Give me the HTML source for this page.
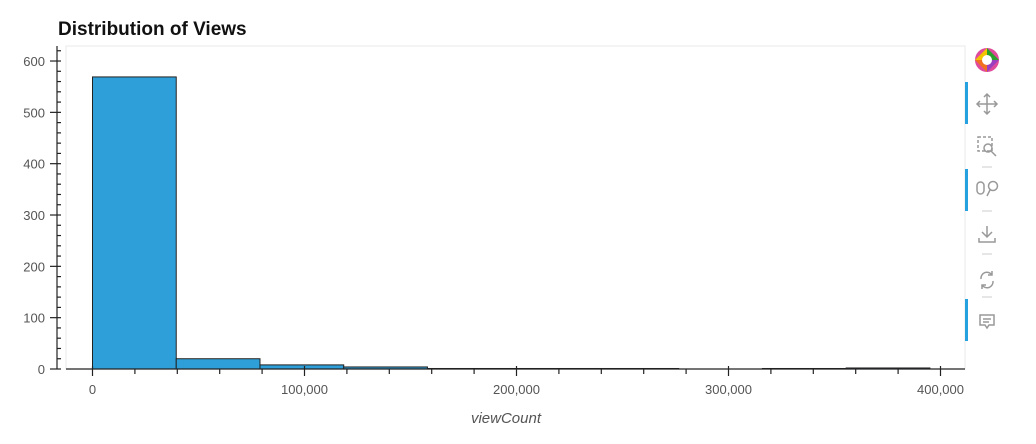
<!DOCTYPE html>
<html><head><meta charset="utf-8">
<style>
body{margin:0;background:#fff;font-family:"Liberation Sans",sans-serif;}
svg text{font-family:"Liberation Sans",sans-serif;}
</style></head>
<body>
<svg width="1036" height="439" id="chart">
<text x="58" y="35" font-size="19" font-weight="bold" fill="#111">Distribution of Views</text>
<rect x="66" y="46" width="899" height="323" fill="none" stroke="#e8e8e8"/>
<g id="bars"></g>
<g id="axes"></g>
<text x="506" y="423" font-size="15" font-style="italic" fill="#555" text-anchor="middle">viewCount</text>
<g stroke="#999" fill="none" stroke-width="1.5">
  <g stroke="none">
    <circle cx="987" cy="60" r="12" fill="#e04a9b"/>
    <path d="M987 48 L999 60 L987 60Z" fill="#2ca02c"/>
    <path d="M999 60 L987 72 L987 60Z" fill="#9b3fc0"/>
    <path d="M987 72 L975 60 L987 60Z" fill="#f07020"/>
    <path d="M975 60 L987 48 L987 60Z" fill="#f2c500"/>
    <circle cx="987" cy="60" r="5" fill="#fff"/>
  </g>
  <rect x="965" y="82" width="3" height="42" fill="#26a1e0" stroke="none"/>
  <g><path d="M987 94v20M977 104h20M984 97l3-3 3 3M984 111l3 3 3-3M980 101l-3 3 3 3M994 101l3 3-3 3"/></g>
  <g><rect x="978" y="137" width="14" height="14" stroke-dasharray="3 2"/><circle cx="988" cy="148" r="4"/><path d="M991 151l5 5"/></g>
  <path d="M982 167h10M982 211h10M982 254h10M982 297h10" stroke="#ddd"/>
  <rect x="965" y="169" width="3" height="42" fill="#26a1e0" stroke="none"/>
  <g><rect x="977" y="182" width="7" height="12" rx="3.5"/><circle cx="993" cy="186" r="4.5"/><path d="M990 190l-3 6"/></g>
  <g><path d="M987 226v11M982 232l5 5 5-5M979 238v4h16v-4"/></g>
  <g><path d="M981 279a6 6 0 0 1 11-4M993 281a6 6 0 0 1-11 4M992 271v4h-4M982 289v-4h4"/></g>
  <rect x="965" y="299" width="3" height="42" fill="#26a1e0" stroke="none"/>
  <g><path d="M980 315h14v10h-5l-2 3-2-3h-5z"/><path d="M983 319h8M983 322h6"/></g>
</g>
</svg>
<script>
const counts=[569,20,8,4,1,1,1,0,1,2];
const binStart=0, binWidth=39500;
const xTicks=[0,100000,200000,300000,400000];
const xTickLabels=["0","100,000","200,000","300,000","400,000"];
const yTicks=[0,100,200,300,400,500,600];
const X=v=>92.5+(v/100000)*212;
const Y=v=>369-v*0.5133;
const NS="http://www.w3.org/2000/svg";
function mk(t,a,p){const e=document.createElementNS(NS,t);for(const k in a)e.setAttribute(k,a[k]);p.appendChild(e);return e;}
const bars=document.getElementById('bars'),axes=document.getElementById('axes');
counts.forEach((c,i)=>{
  const x0=X(binStart+i*binWidth),x1=X(binStart+(i+1)*binWidth);
  const r=mk('rect',{x:x0,y:Y(c),width:x1-x0,height:Y(0)-Y(c),fill:'#2e9fd8',stroke:'#222','stroke-width':1},bars);
  
  
});
const xa=mk('g',{},axes);


mk('line',{x1:66,x2:965,y1:369,y2:369,stroke:'#222','stroke-width':1.2},xa);
for(let v=0;v<=400000;v+=20000){const big=v%100000===0;mk('line',{x1:X(v),x2:X(v),y1:big?366:369,y2:big?376:374,stroke:'#222','stroke-width':1.2},xa);}
xTicks.forEach((v,i)=>{const t=mk('text',{x:X(v),y:394,'font-size':13,fill:'#555','text-anchor':'middle'},xa);t.textContent=xTickLabels[i];

});
const ya=mk('g',{},axes);


mk('line',{x1:57,x2:57,y1:46,y2:369,stroke:'#222','stroke-width':1.2},ya);
for(let v=0;v<=620;v+=20){const big=v%100===0;mk('line',{x1:big?50:57,x2:big?61:61,y1:Y(v),y2:Y(v),stroke:'#222','stroke-width':1.2},ya);}
yTicks.forEach(v=>{const t=mk('text',{x:45,y:Y(v)+5,'font-size':13,fill:'#555','text-anchor':'end'},ya);t.textContent=v;

});
</script>
</body></html>
